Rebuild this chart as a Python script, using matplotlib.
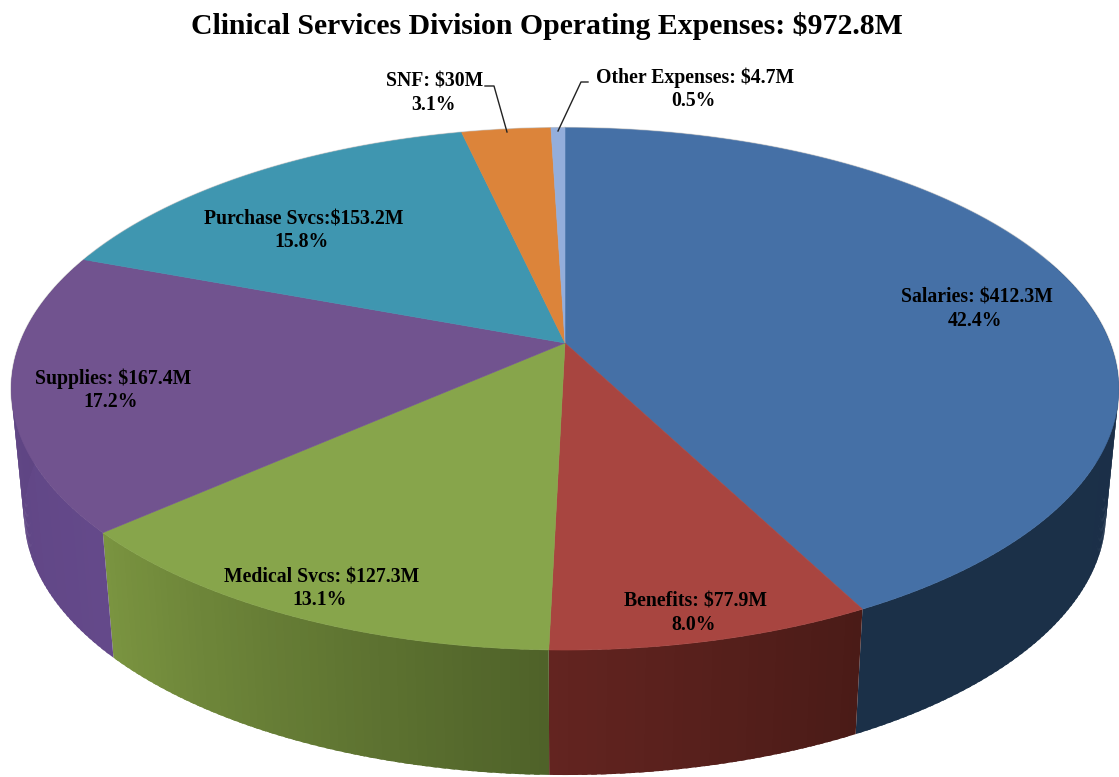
import numpy as np
import matplotlib
matplotlib.use('Agg')
import matplotlib.pyplot as plt
from matplotlib.patches import Polygon

# Expense data, clockwise from the top of the pie
names = ['Salaries: $412.3M', 'Benefits: $77.9M', 'Medical Svcs: $127.3M', 'Supplies: $167.4M',
         'Purchase Svcs:$153.2M', 'SNF: $30M', 'Other Expenses: $4.7M']
values = [412.3, 77.9, 127.3, 167.4, 153.2, 30, 4.7]
percents = ['42.4%', '8.0%', '13.1%', '17.2%', '15.8%', '3.1%', '0.5%']
top_colors = ['#4570a6', '#a84540', '#87a54b', '#71538f', '#3f96b0', '#dc843a', '#94aedb']
wall_start = ['#1a2e48', '#4a1b17', '#4f6229', '#64498a', '#2a6478', '#935826', '#637492']
wall_end = ['#1b3048', '#632420', '#7a9440', '#5c4380', '#2a6478', '#935826', '#637492']
label_x = [977, 696, 322, 113, 304, 435, 695]
label_y = [298, 602, 577, 379, 219, 82, 78]

# Tilted disc geometry, in image pixels
cx, cy = 565, 343
rad_x, rad_y = 545, 253
persp = 0.176
depth = 125
shrink = 0.977


def top_rim(theta):
    # theta runs clockwise from the far side of the disc
    d = 1 + persp * np.cos(theta)
    return cx + rad_x * np.sin(theta) / d, cy - rad_y * np.cos(theta) / d


def bottom_rim(theta):
    x, y = top_rim(theta)
    return cx + (x - cx) * shrink, y + depth


fig = plt.figure(figsize=(11.19, 7.77), dpi=100)
ax = fig.add_axes([0, 0, 1, 1])
ax.set_xlim(0, 1119)
ax.set_ylim(777, 0)
ax.axis('off')

edges = 2 * np.pi * np.concatenate([[0], np.cumsum(values)]) / np.sum(values)

# faint outline on the far rim
t = np.linspace(0, 2 * np.pi, 400)
ax.plot(*top_rim(t), color='#cfcfcf', lw=1.4, zorder=1)

# side walls: thin strips so the shade can change along the rim
for i in range(len(values)):
    ts = np.linspace(edges[i], edges[i + 1], max(4, int((edges[i + 1] - edges[i]) * 70)))
    c0 = np.array(matplotlib.colors.to_rgb(wall_start[i]))
    c1 = np.array(matplotlib.colors.to_rgb(wall_end[i]))
    for j in range(len(ts) - 1):
        if np.cos(ts[j]) > 0.35:
            continue
        # overlap the next strip a little to hide the seams
        seg = np.array([ts[j], min(ts[j] + 1.6 * (ts[1] - ts[0]), edges[i + 1])])
        xa, ya = top_rim(seg)
        xb, yb = bottom_rim(seg)
        f = j / (len(ts) - 2)
        col = c0 + (c1 - c0) * f
        ax.add_patch(Polygon([(xa[0], ya[0]), (xa[1], ya[1]), (xb[1], yb[1]), (xb[0], yb[0])],
                             facecolor=col, edgecolor='none', zorder=2))

# top faces
for i in range(len(values)):
    ts = np.linspace(edges[i], edges[i + 1], 120)
    x, y = top_rim(ts)
    pts = np.column_stack([np.r_[cx, x], np.r_[cy, y]])
    ax.add_patch(Polygon(pts, facecolor=top_colors[i], edgecolor=top_colors[i], lw=0.4, zorder=3))

serif = 'Liberation Serif'
for i in range(len(values)):
    ax.text(label_x[i], label_y[i], names[i], ha='center', va='center', family=serif,
            weight='bold', fontsize=14.2, color='black', zorder=5)
    ax.text(label_x[i] - 2, label_y[i] + 23, percents[i], ha='center', va='center', family=serif,
            weight='bold', fontsize=14.2, color='black', zorder=5)

# leader lines for the two thin slices
ax.plot([485, 494, 507], [86, 86, 132], color='#222222', lw=1, zorder=4)
ax.plot([588, 581, 558], [82, 82, 131], color='#222222', lw=1, zorder=4)

ax.text(547, 26.5, 'Clinical Services Division Operating Expenses: $972.8M', ha='center', va='center',
        family=serif, weight='bold', fontsize=21.4)

fig.savefig('out.png', dpi=100)
